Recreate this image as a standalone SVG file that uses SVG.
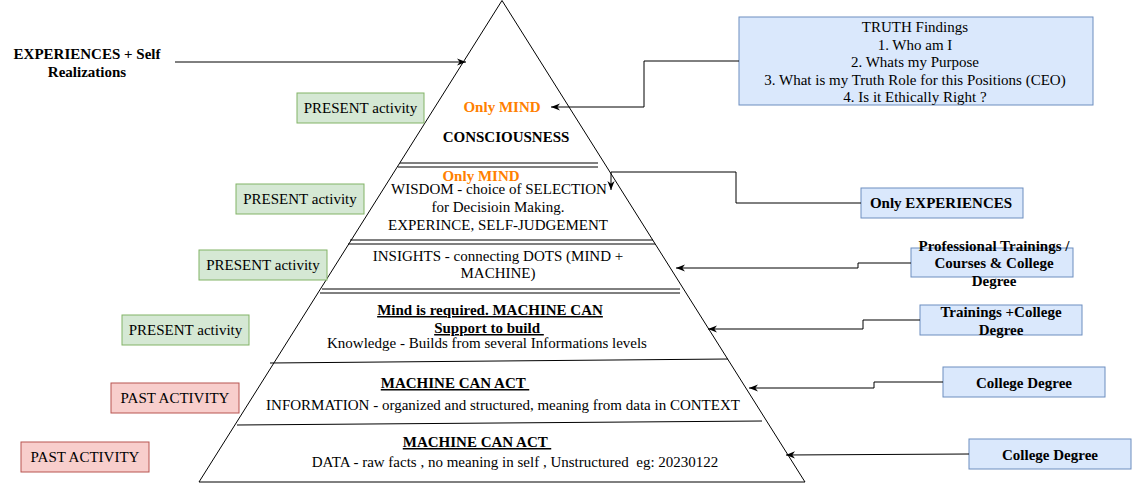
<svg xmlns="http://www.w3.org/2000/svg" width="1132" height="483" viewBox="0 0 1132 483">
<defs>
<style>
text{font-family:"Liberation Serif","Times New Roman",serif;font-size:15px;fill:#000;text-anchor:middle;white-space:pre}
.b{font-weight:bold}
.u{text-decoration:underline}
.o{fill:#FF8000;font-weight:bold}
.g{fill:#d5e8d4;stroke:#82b366;stroke-width:1}
.r{fill:#f8cecc;stroke:#b85450;stroke-width:1}
.bl{fill:#dae8fc;stroke:#6c8ebf;stroke-width:1}
.ln{stroke:#000;stroke-width:1;fill:none}
.c{stroke:#000;stroke-width:1;fill:none;marker-end:url(#arr)}
</style>
<marker id="arr" viewBox="0 0 10 10" refX="10" refY="5" markerWidth="9" markerHeight="9" orient="auto" markerUnits="userSpaceOnUse">
<path d="M0,1 L10,5 L0,9 L3,5 z" fill="#000"/>
</marker>
</defs>
<rect width="1132" height="483" fill="#fff"/>

<g id="pyramid">
<path class="ln" d="M502,0.5 L199,482 L805,482 Z"/>
<line class="ln" x1="400" y1="163" x2="598" y2="163"/>
<line class="ln" x1="398" y1="167" x2="598" y2="167"/>
<line class="ln" x1="350" y1="240" x2="653" y2="240"/>
<line class="ln" x1="348" y1="244" x2="655" y2="244"/>
<line class="ln" x1="322" y1="289" x2="680" y2="289"/>
<line class="ln" x1="320" y1="293" x2="680" y2="293"/>
<line class="ln" x1="270" y1="363" x2="728" y2="359"/>
<line class="ln" x1="237" y1="425" x2="762" y2="421"/>
</g>

<g id="top-text">
<text class="o" x="502" y="112">Only MIND</text>
<text class="b" x="506" y="142">CONSCIOUSNESS</text>
</g>
<g id="wisdom">
<text class="o" x="481" y="181">Only MIND</text>
<text x="499" y="194">WISDOM - choice of SELECTION</text>
<text x="498" y="212">for Decisioin Making.</text>
<text x="498" y="230">EXPERINCE, SELF-JUDGEMENT</text>
</g>
<g id="insights">
<text x="498" y="261">INSIGHTS - connecting DOTS (MIND +</text>
<text x="498" y="278">MACHINE)</text>
</g>
<g id="knowledge">
<text class="b u" x="490" y="315">Mind is required. MACHINE CAN</text>
<text class="b u" x="489" y="333">Support to build </text>
<text x="487" y="348">Knowledge - Builds from several Informations levels</text>
</g>
<g id="information">
<text class="b u" x="455" y="388">MACHINE CAN ACT </text>
<text x="503" y="410">INFORMATION - organized and structured, meaning from data in CONTEXT</text>
</g>
<g id="data">
<text class="b u" x="477" y="447">MACHINE CAN ACT </text>
<text x="515" y="467">DATA - raw facts , no meaning in self , Unstructured  eg: 20230122</text>
</g>

<g id="experiences">
<text class="b" x="87" y="59">EXPERIENCES + Self</text>
<text class="b" x="87" y="77">Realizations</text>
</g>

<g id="present1"><rect class="g" x="297" y="93" width="127" height="30"/><text x="360.5" y="113">PRESENT activity</text></g>
<g id="present2"><rect class="g" x="236" y="184" width="128" height="30"/><text x="300" y="204">PRESENT activity</text></g>
<g id="present3"><rect class="g" x="199" y="250" width="128" height="30"/><text x="263" y="270">PRESENT activity</text></g>
<g id="present4"><rect class="g" x="122" y="315" width="127" height="30"/><text x="185.5" y="335">PRESENT activity</text></g>
<g id="past1"><rect class="r" x="111" y="383" width="128" height="30"/><text x="175" y="403">PAST ACTIVITY</text></g>
<g id="past2"><rect class="r" x="21" y="442" width="128" height="30"/><text x="85" y="462">PAST ACTIVITY</text></g>

<g id="truth">
<rect class="bl" x="739" y="17" width="354" height="88"/>
<text x="915" y="32">TRUTH Findings</text>
<text x="915" y="50">1. Who am I</text>
<text x="915" y="67">2. Whats my Purpose</text>
<text x="915" y="85">3. What is my Truth Role for this Positions (CEO)</text>
<text x="915" y="102">4. Is it Ethically Right ?</text>
</g>
<g id="only-exp">
<rect class="bl" x="861" y="188" width="162" height="30"/>
<text class="b" x="941" y="208">Only EXPERIENCES</text>
</g>
<g id="professional">
<rect class="bl" x="911" y="248" width="162" height="29"/>
<text class="b" x="994" y="251">Professional Trainings /</text>
<text class="b" x="994" y="268">Courses &amp; College</text>
<text class="b" x="994" y="286">Degree</text>
</g>
<g id="trainings">
<rect class="bl" x="920" y="305" width="162" height="30"/>
<text class="b" x="1001" y="317">Trainings +College</text>
<text class="b" x="1001" y="335">Degree</text>
</g>
<g id="college1">
<rect class="bl" x="943" y="367" width="162" height="30"/>
<text class="b" x="1024" y="388">College Degree</text>
</g>
<g id="college2">
<rect class="bl" x="969" y="439" width="162" height="30"/>
<text class="b" x="1050" y="460">College Degree</text>
</g>

<g id="connectors">
<path class="c" d="M175,62 L466,62"/>
<path class="c" d="M739,61 L644,61 L644,107 L551,107"/>
<path class="c" d="M861,203 L736,203 L736,172 L611,172 L611,190"/>
<path class="c" d="M911,263 L858,263 L858,268 L676,268"/>
<path class="c" d="M920,320 L863,320 L863,329 L708,329"/>
<path class="c" d="M943,382 L874,382 L874,388 L749,388"/>
<path class="c" d="M969,454 L786,455"/>
</g>
</svg>
